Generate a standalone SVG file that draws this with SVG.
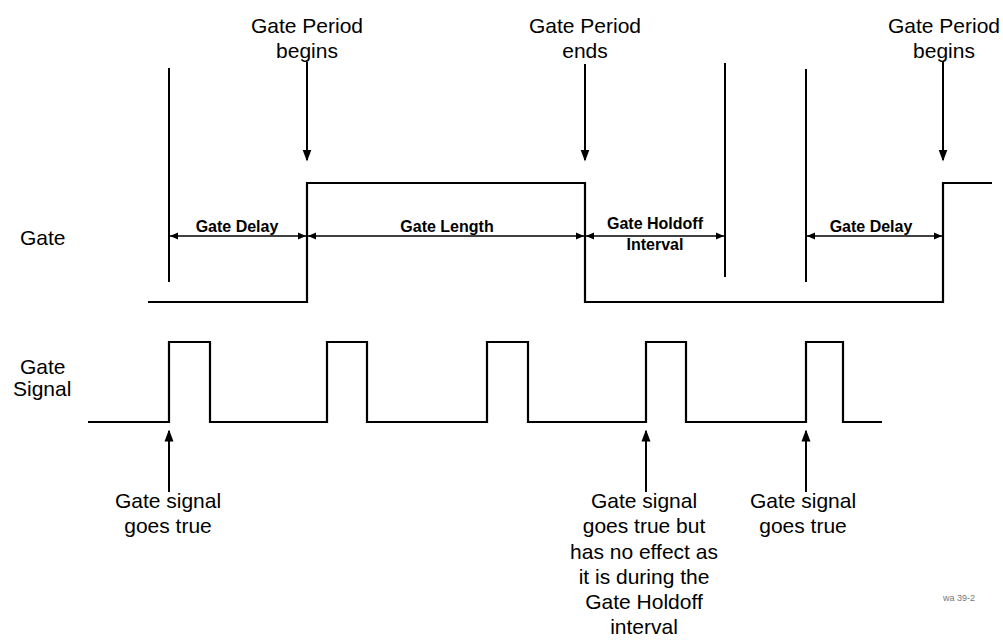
<svg xmlns="http://www.w3.org/2000/svg" width="1003" height="640" viewBox="0 0 1003 640">
<style>
  text { font-family: "Liberation Sans", Arial, sans-serif; fill: #000; }
  .lbl { font-size: 21px; }
  .dim { font-size: 16px; font-weight: bold; }
  .c { text-anchor: middle; }
  .w { fill: none; stroke: #000; stroke-width: 2.2; }
  .ln { fill: none; stroke: #000; stroke-width: 2; }
  .dl { fill: none; stroke: #000; stroke-width: 1.6; marker-start: url(#dh); marker-end: url(#dh); }
  .ar { fill: none; stroke: #000; stroke-width: 2; }
</style>
<defs>
  <marker id="ah" markerUnits="userSpaceOnUse" markerWidth="12" markerHeight="16" refX="14" refY="6" viewBox="0 0 16 12" orient="auto">
    <path d="M0,0 L16,6 L0,12 Z" fill="#000"/>
  </marker>
  <marker id="dh" markerUnits="userSpaceOnUse" markerWidth="8" markerHeight="8" refX="8" refY="4" viewBox="0 0 8 8" orient="auto-start-reverse">
    <path d="M0,0.5 L8,4 L0,7.5 Z" fill="#000"/>
  </marker>
</defs>
<rect width="1003" height="640" fill="#fff"/>

<g id="top-labels">
  <g id="label-begins-1"><text class="lbl c" x="307" y="33">Gate Period</text><text class="lbl c" x="307" y="58">begins</text></g>
  <g id="label-ends"><text class="lbl c" x="585" y="33">Gate Period</text><text class="lbl c" x="585" y="58">ends</text></g>
  <g id="label-begins-2"><text class="lbl c" x="944" y="33">Gate Period</text><text class="lbl c" x="944" y="58">begins</text></g>
</g>

<g id="row-labels">
  <g id="label-gate"><text class="lbl" x="20" y="245">Gate</text></g>
  <g id="label-gate-signal"><text class="lbl" x="20" y="374">Gate</text><text class="lbl" x="13" y="396">Signal</text></g>
</g>

<g id="gate-waveform">
  <polyline class="w" points="148,302 307,302 307,183 585,183 585,302 943,302 943,183 992,183"/>
</g>

<g id="gate-signal-waveform">
  <polyline class="w" points="88,422 169,422 169,342 210,342 210,422 327,422 327,342 367,342 367,422 487,422 487,342 528,342 528,422 646,422 646,342 686,342 686,422 806,422 806,342 843,342 843,422 882,422"/>
</g>

<g id="markers">
  <line class="ln" x1="169" y1="68" x2="169" y2="282"/>
  <line class="ln" x1="725" y1="63" x2="725" y2="277"/>
  <line class="ln" x1="806" y1="69" x2="806" y2="282"/>
</g>

<g id="dimensions">
  <g id="dim-gate-delay-1"><line class="dl" x1="170" y1="236" x2="306" y2="236"/><text class="dim c" x="237" y="232">Gate Delay</text></g>
  <g id="dim-gate-length"><line class="dl" x1="308" y1="236" x2="584" y2="236"/><text class="dim c" x="447" y="232">Gate Length</text></g>
  <g id="dim-gate-holdoff"><line class="dl" x1="586" y1="236" x2="724" y2="236"/><text class="dim c" x="655" y="229">Gate Holdoff</text><text class="dim c" x="655" y="250">Interval</text></g>
  <g id="dim-gate-delay-2"><line class="dl" x1="807" y1="236" x2="942" y2="236"/><text class="dim c" x="871" y="232">Gate Delay</text></g>
</g>

<g id="connectors">
  <line class="ar" x1="307" y1="62" x2="307" y2="160" marker-end="url(#ah)"/>
  <line class="ar" x1="585" y1="64" x2="585" y2="160" marker-end="url(#ah)"/>
  <line class="ar" x1="943" y1="62" x2="943" y2="160" marker-end="url(#ah)"/>
  <line class="ar" x1="169" y1="492" x2="169" y2="431" marker-end="url(#ah)"/>
  <line class="ar" x1="646" y1="492" x2="646" y2="431" marker-end="url(#ah)"/>
  <line class="ar" x1="806" y1="492" x2="806" y2="431" marker-end="url(#ah)"/>
</g>

<g id="bottom-labels">
  <g id="label-true-1"><text class="lbl c" x="168" y="508">Gate signal</text><text class="lbl c" x="168" y="533">goes true</text></g>
  <g id="label-true-holdoff">
    <text class="lbl c" x="644" y="508">Gate signal</text>
    <text class="lbl c" x="644" y="533">goes true but</text>
    <text class="lbl c" x="644" y="559">has no effect as</text>
    <text class="lbl c" x="644" y="584">it is during the</text>
    <text class="lbl c" x="644" y="609">Gate Holdoff</text>
    <text class="lbl c" x="644" y="634">interval</text>
  </g>
  <g id="label-true-2"><text class="lbl c" x="803" y="508">Gate signal</text><text class="lbl c" x="803" y="533">goes true</text></g>
</g>

<text x="943" y="601" style="font-size:9px; fill:#777">wa 39-2</text>
</svg>
